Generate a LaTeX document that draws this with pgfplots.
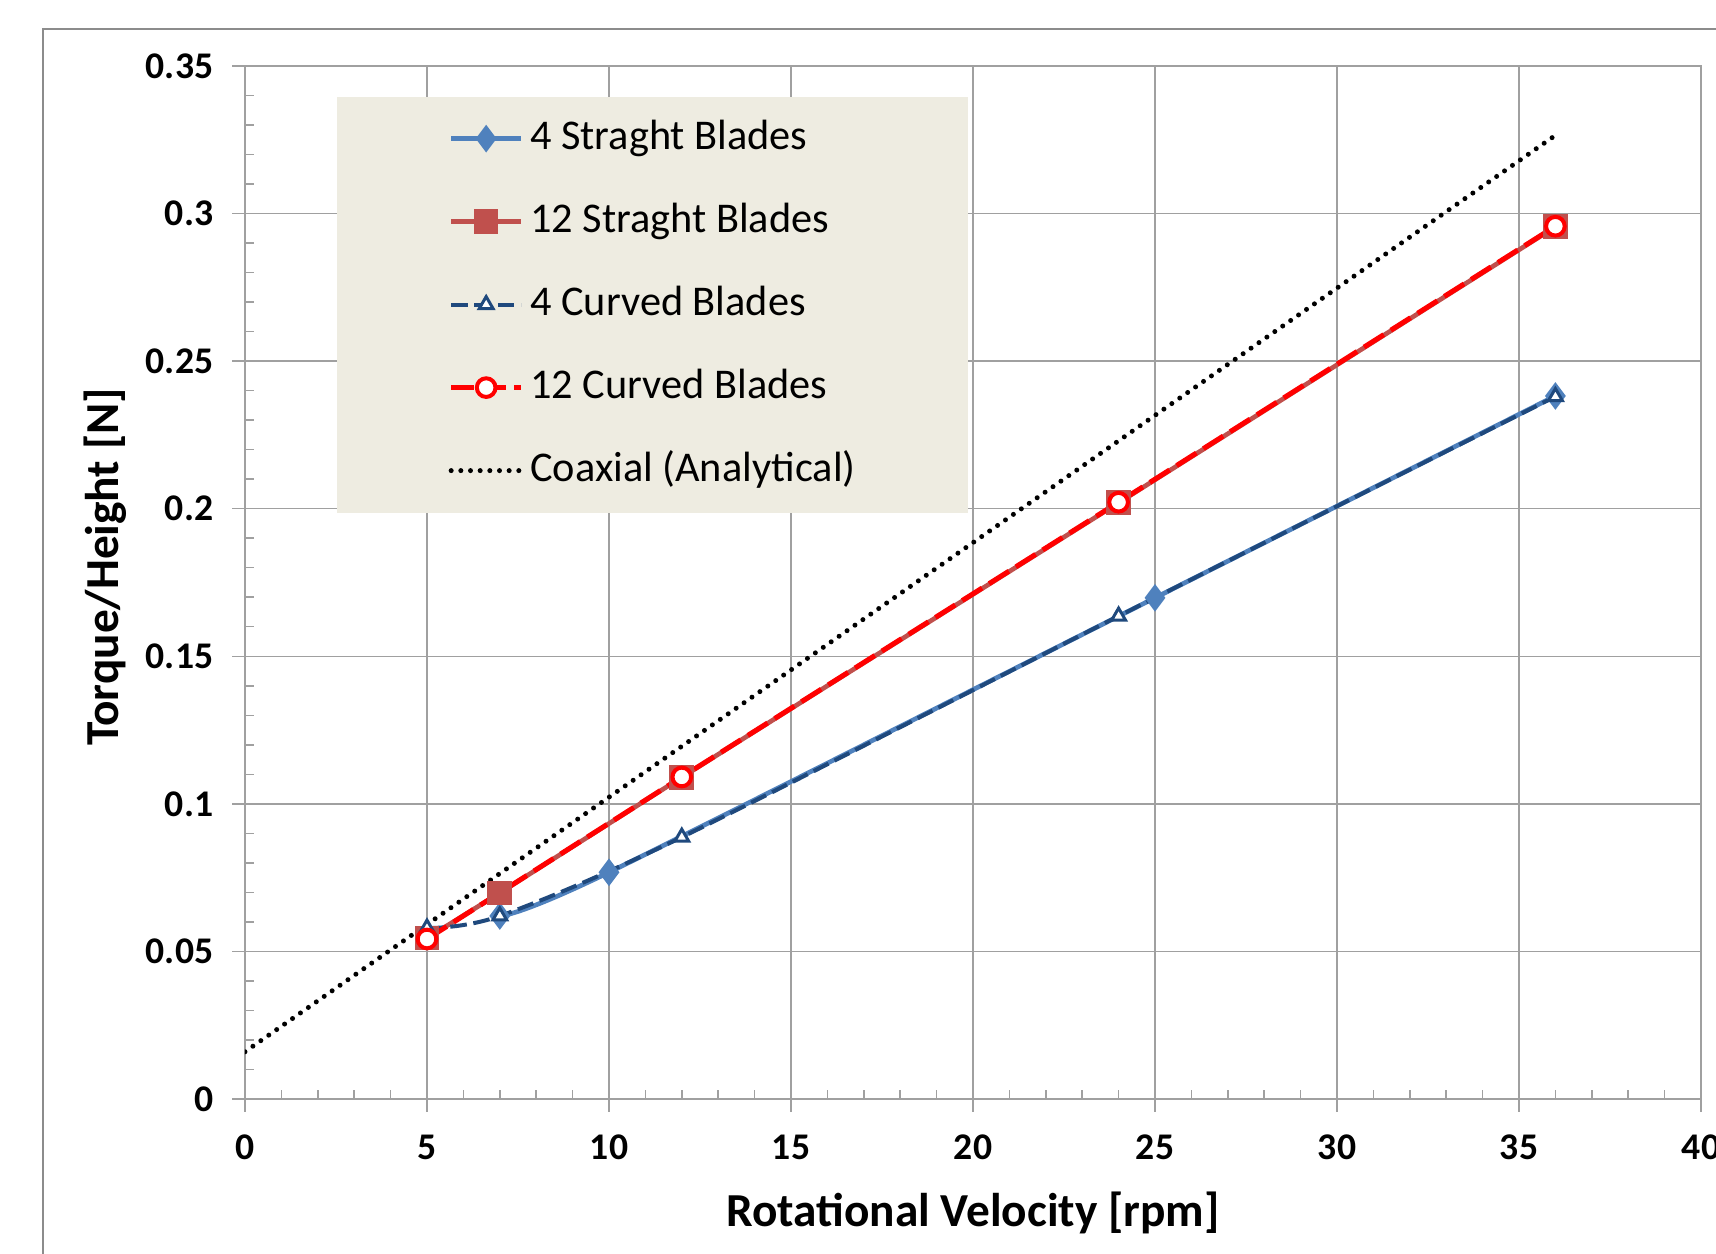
\documentclass[border=0pt]{standalone}
\usepackage{fontspec}
\setmainfont{Carlito}
\usepackage{pgfplots}
\pgfplotsset{compat=1.18}
\definecolor{sblue}{HTML}{4F81BD}
\definecolor{sred}{HTML}{C0504D}
\definecolor{navy}{HTML}{1F497D}
\definecolor{legbg}{HTML}{EEECE1}
\definecolor{gridgray}{HTML}{A0A0A0}
\definecolor{bordergray}{HTML}{8C8C8C}
\begin{document}
\begin{tikzpicture}[x=1pt,y=1pt]
\useasboundingbox (0,0) rectangle (514.8,376.2);
\draw[bordergray, line width=0.7pt] (12.9,-5) -- (12.9,367.5) -- (530,367.5);
\begin{axis}[
  at={(73.5pt,46.5pt)}, anchor=south west,
  scale only axis, width=436.8pt, height=309.9pt,
  xmin=0, xmax=40, ymin=0, ymax=0.35,
  xtick={0,5,10,15,20,25,30,35,40},
  ytick={0,0.05,0.1,0.15,0.2,0.25,0.3,0.35},
  minor x tick num=4, minor y tick num=4,
  grid=major, major grid style={gridgray, line width=0.45pt},
  axis line style={gridgray, line width=0.45pt},
  xtick pos=bottom, ytick pos=left,
  tick align=outside,
  major tick length=3.8pt, minor tick length=2.6pt,
  tick style={gridgray, line width=0.45pt},
  minor x tick style={yshift=2.6pt}, minor y tick style={xshift=2.6pt},
  /pgf/number format/assume math mode=true,
  /pgf/number format/fixed,
  tick label style={font=\fontsize{11.3}{13}\selectfont\bfseries},
  xticklabel style={yshift=-3.4pt},
  yticklabel style={xshift=-2.2pt},
  xlabel={Rotational Velocity [rpm]},
  ylabel={Torque/Height [N]},
  label style={font=\fontsize{14.2}{16}\selectfont\bfseries},
  xlabel style={at={(axis description cs:0.5,-0.123)}, anchor=base},
  ylabel style={at={(axis description cs:-0.096,0.515)}, anchor=center},
  legend style={at={(axis description cs:0.0625,0.971)}, anchor=north west,
    fill=legbg, draw=none, inner xsep=33.6pt, inner ysep=6.6pt,
    row sep=12.9pt, column sep=2.0pt,
    font=\fontsize{12.7}{14}\selectfont,
    nodes={inner sep=0pt, text height=9.2pt, text depth=2.8pt}},
  legend cell align=left,
  legend image code/.code={\draw[mark repeat=2, mark phase=2, #1] plot coordinates {(0pt,0pt) (10.5pt,0pt) (21pt,0pt)};},
]
\addplot[sblue, line width=1.4pt, smooth, mark=diamond*, mark size=3pt, mark options={solid, fill=sblue, draw=sblue}]
  coordinates {(7,0.0620) (10,0.0768) (25,0.1698) (36,0.2382)};
\addlegendentry{4 Straght Blades}
\addplot[sred, line width=1.4pt, mark=square*, mark size=3pt, mark options={solid, fill=sred, draw=sred}]
  coordinates {(5,0.0545) (7,0.0698) (12,0.1090) (24,0.2020) (36,0.2955)};
\addlegendentry{12 Straght Blades}
\addplot[navy, line width=1.2pt, smooth, dash pattern=on 5pt off 2pt, mark=triangle*, mark size=2.4pt, mark options={solid, fill=white, draw=navy, line width=0.9pt}]
  coordinates {(5,0.0579) (7,0.0620) (12,0.0887) (24,0.1636) (36,0.2380)};
\addlegendentry{4 Curved Blades}
\addplot[red, line width=1.5pt, dash pattern=on 7pt off 2.5pt, mark=*, mark size=2.8pt, mark options={solid, fill=white, draw=red, line width=1.2pt}]
  coordinates {(5,0.0542) (12,0.1091) (24,0.2022) (36,0.2957)};
\addlegendentry{12 Curved Blades}
\addplot[black, line width=1.5pt, line cap=round, dash pattern=on 0pt off 2.9pt]
  coordinates {(0,0.0160) (12,0.1195) (24,0.2230) (36,0.3265)};
\addlegendentry{Coaxial (Analytical)}
\end{axis}
\end{tikzpicture}
\end{document}
